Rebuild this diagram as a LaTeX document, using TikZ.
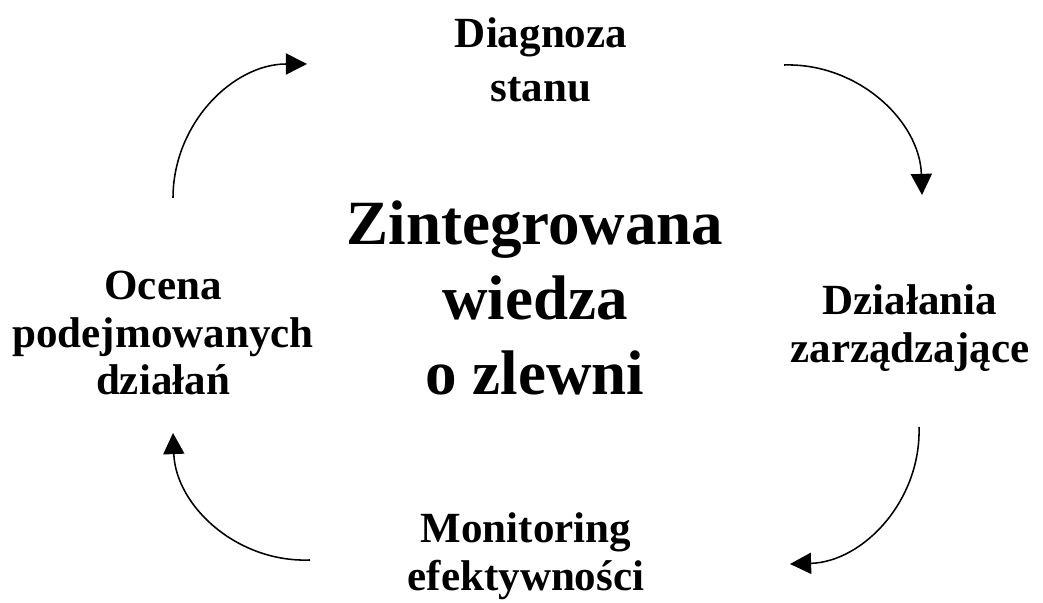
\documentclass[tikz,border=0pt]{standalone}
\usepackage{fontspec}
\setmainfont{Liberation Serif}
\usetikzlibrary{arrows.meta}
\tikzset{
  lbl/.style={font=\bfseries\fontsize{30.6}{34}\selectfont,align=center,inner sep=0pt},
  big/.style={font=\bfseries\fontsize{44.8}{53.3}\selectfont,align=center,inner sep=0pt},
  arr/.style={-{Triangle[length=15pt,width=15pt]},line width=1.1pt}
}
\begin{document}
\begin{tikzpicture}[x=0.025cm,y=0.025cm]
                \useasboundingbox (0,0) rectangle (1043,603);

                \node[big] (wiedza) at (535,305) {Zintegrowana\\wiedza\\o zlewni};
                \node[lbl] (diag) at (541,543) {Diagnoza\\[4pt]stanu};
                \node[lbl] (dzial) at (910,275) {Działania\\zarządzające};
                \node[lbl] (monit) at (526,47) {Monitoring\\efektywności};
                \node[lbl] (ocena) at (163,270) {Ocena\\podejmowanych\\działań};

                \coordinate (s1) at (173,405); \coordinate (e1) at (307,539);
                \coordinate (s2) at (784,538); \coordinate (e2) at (922,408);
                \coordinate (s3) at (919,176); \coordinate (e3) at (790,39);
                \coordinate (s4) at (310,43);  \coordinate (e4) at (173,170);

                \draw[arr] (s1) to[bend left=45] (e1);
                \draw[arr] (s2) to[bend left=45] (e2);
                \draw[arr] (s3) to[bend left=45] (e3);
                \draw[arr] (s4) to[bend left=45] (e4);
            \end{tikzpicture}
\end{document}
